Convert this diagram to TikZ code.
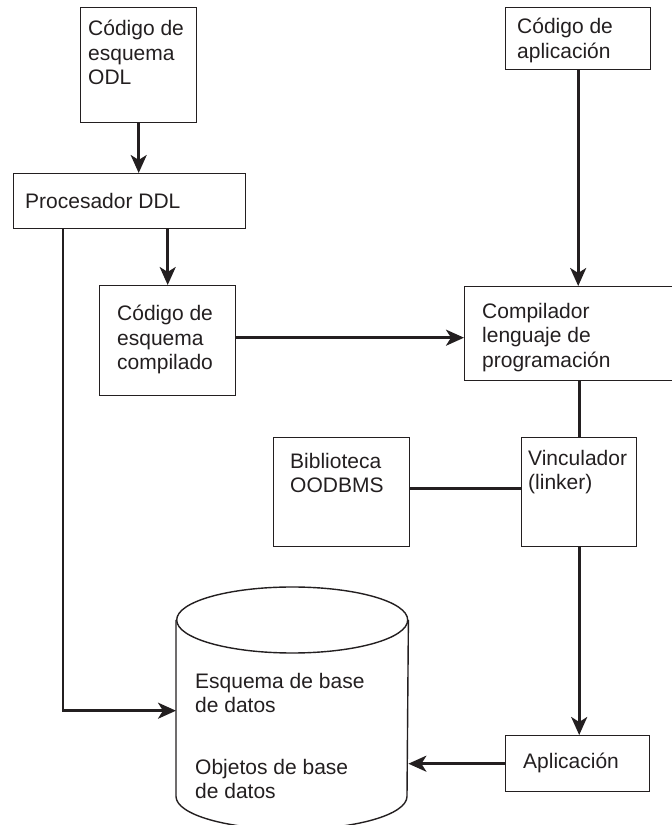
\documentclass[tikz,border=0pt]{standalone}
\usepackage{fontspec}
\setmainfont{Liberation Sans}
\usetikzlibrary{positioning,arrows.meta}
\definecolor{ink}{RGB}{35,31,32}

\begin{document}
\begin{tikzpicture}[
    x=1pt, y=1pt,
    font=\fontsize{21}{24.5}\selectfont,
    >={Stealth[length=18pt,width=16pt,inset=5pt]},
    box/.style={
        draw=ink,
        line width=1.4pt,
        anchor=north west,
        inner sep=0pt
    },
    boxtext/.style={
        anchor=north west,
        inner sep=0pt,
        align=left,
        text=ink
    },
    arrow/.style={
        ->,
        line width=2.6pt,
        draw=ink
    },
    wire/.style={
        line width=2.6pt,
        draw=ink
    }
]

\useasboundingbox (0,0) rectangle (672,825);

% Schema side
\node[box, minimum width=116pt, minimum height=115pt] (odl) at (80,818) {};
\node[boxtext, below right=13pt and 8pt of odl.north west] (odltext) {C\'odigo de\\esquema\\ODL};

\node[box, minimum width=232pt, minimum height=55pt] (ddl) at (13,652) {};
\node[boxtext, below right=20pt and 12pt of ddl.north west] (ddltext) {Procesador DDL};

\node[box, minimum width=136pt, minimum height=110pt] (schema) at (99,540) {};
\node[boxtext, below right=20pt and 18pt of schema.north west] (schematext) {C\'odigo de\\esquema\\compilado};

% Application side
\node[box, minimum width=145pt, minimum height=62pt] (appcode) at (505,818) {};
\node[boxtext, below right=11pt and 12pt of appcode.north west] (appcodetext) {C\'odigo de\\aplicaci\'on};

\node[box, minimum width=215pt, minimum height=94pt] (compiler) at (464,539) {};
\node[boxtext, below right=17pt and 18pt of compiler.north west] (compilertext) {Compilador\\lenguaje de\\programaci\'on};

\node[box, minimum width=136pt, minimum height=109pt] (library) at (273,388) {};
\node[boxtext, below right=16pt and 17pt of library.north west] (librarytext) {Biblioteca\\OODBMS};

\node[box, minimum width=115pt, minimum height=109pt] (linker) at (521,388) {};
\node[boxtext, below right=13pt and 7pt of linker.north west] (linkertext) {Vinculador\\(linker)};

\node[box, minimum width=144pt, minimum height=56pt] (app) at (505,90) {};
\node[boxtext, below right=18pt and 18pt of app.north west] (apptext) {Aplicaci\'on};

% Database cylinder
\node[box, draw=none, minimum width=231pt, minimum height=175pt] (db) at (176,205) {};
\draw[ink, line width=1.4pt] (db.north) ellipse [x radius=115.5pt, y radius=33pt];
\draw[ink, line width=1.4pt] (db.north west) -- (db.south west)
    arc[start angle=180, end angle=360, x radius=115.5pt, y radius=33pt] -- (db.north east);
\node[boxtext, below right=53pt and 19pt of db.north west] (dbschema) {Esquema de base\\de datos};
\node[boxtext, below right=139pt and 19pt of db.north west] (dbobjects) {Objetos de base\\de datos};

% Arrows
\draw[arrow] (odl.south) -- (odl.south |- ddl.north);
\draw[arrow] (schema.north |- ddl.south) -- (schema.north);
\draw[arrow] ([xshift=50pt]ddl.south west) |- ([yshift=-2.5pt]db.west);
\draw[arrow] ([yshift=3pt]schema.east) -- ([yshift=3pt]schema.east -| compiler.west);
\draw[arrow] (appcode.south) -- (appcode.south |- compiler.north);
\draw[wire] (linker.north |- compiler.south) -- (linker.north);
\draw[wire] ([yshift=3.5pt]library.east) -- ([yshift=3.5pt]library.east -| linker.west);
\draw[arrow] (linker.south) -- (linker.south |- app.north);
\draw[arrow] (app.west) -- (app.west -| db.east);

\end{tikzpicture}
\end{document}
